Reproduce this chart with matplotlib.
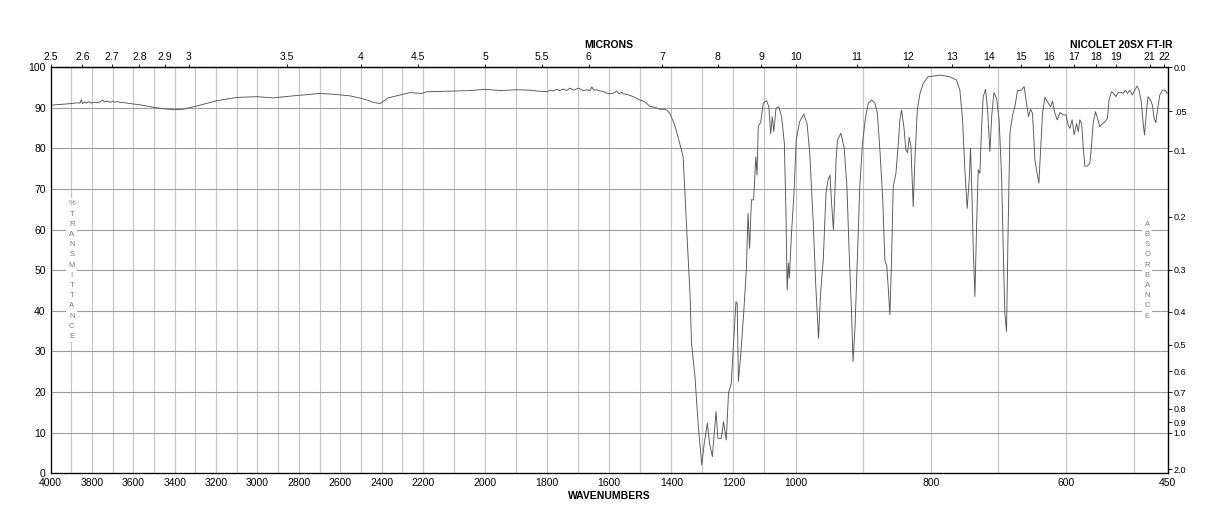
import matplotlib
import numpy as np

matplotlib.use("Agg")

from matplotlib import pyplot as plt  # noqa: E402

plt.rcParams["font.family"] = ["Liberation Sans", "DejaVu Sans"]

# spectrum (cm-1, %T)
wavenumbers = [
    4000, 3950, 3900, 3870, 3858, 3852, 3846, 3835, 3825, 3815, 3805, 3795,
    3780, 3760, 3748, 3740, 3725, 3712, 3700, 3690, 3680, 3665, 3640, 3616,
    3568, 3504, 3450, 3407, 3359, 3294, 3197, 3101, 3004, 2924, 2827, 2762,
    2698, 2634, 2553, 2500, 2472, 2440, 2408, 2390, 2368, 2311, 2263, 2206,
    2188, 2102, 2049, 2000, 1952, 1898, 1855, 1820, 1801, 1790, 1780, 1770,
    1760, 1748, 1738, 1726, 1715, 1699, 1690, 1683, 1670, 1662, 1656, 1650,
    1640, 1630, 1619, 1610, 1597, 1585, 1576, 1568, 1560, 1555, 1545, 1533,
    1520, 1512, 1500, 1490, 1479, 1469, 1460, 1447, 1437, 1421, 1415, 1405,
    1389, 1373, 1362, 1351, 1340, 1335, 1324, 1313, 1302, 1294, 1284, 1277,
    1268, 1256, 1250, 1239, 1232, 1223, 1216, 1207, 1192, 1188, 1184, 1177,
    1167, 1158, 1153, 1148, 1142, 1135, 1128, 1124, 1120, 1112, 1104, 1093,
    1086, 1080, 1075, 1070, 1063, 1054, 1045, 1036, 1031, 1027, 1023, 1020,
    1013, 1005, 999, 994, 988, 983, 979, 974, 970, 966, 963, 959,
    955, 952, 949, 947, 944, 943, 940, 938, 933, 928, 924, 921,
    917, 915, 912, 909, 905, 901, 897, 892.5, 887.5, 882.6, 879, 875,
    871, 868, 865, 863, 860.5, 858, 855.6, 851.6, 848, 845.7, 843.2, 839.8,
    836.8, 834.3, 831.9, 829.4, 826, 823.5, 820, 816, 811, 804, 786, 772,
    762, 757, 753, 749.6, 746.2, 743.2, 741.2, 739.2, 737.3, 734.8, 732.3, 729.9,
    727.4, 724.9, 722.5, 719, 716, 712.6, 710, 706.7, 702.7, 699, 695.3, 693,
    690.5, 688, 685.6, 683, 679, 675.7, 671.8, 665.8, 662, 658.5, 655.5, 652.5,
    649.6, 646, 642.8, 640.2, 637.3, 634.8, 631.3, 626.4, 622.9, 620, 616.5, 613,
    609, 604, 600, 597, 594.4, 591, 588, 584.5, 582, 579.6, 577, 574.7,
    572.2, 568.8, 564.8, 562.4, 560, 556.5, 553.5, 550, 546, 542.7, 538.8, 536.4,
    533, 529.5, 526.5, 523, 519.6, 515.7, 512.2, 509.2, 505.8, 502, 498.4, 495,
    492, 488.5, 486, 484, 481, 478.8, 475.2, 472.3, 469.8, 467.3, 464.8, 461.4,
    457.5, 454, 450,
]
transmittance = [
    90.6, 90.8, 91.0, 91.2, 91.1, 91.9, 91.0, 91.4, 91.1, 91.5, 91.1, 91.3,
    91.2, 91.4, 91.9, 91.4, 91.6, 91.3, 91.6, 91.3, 91.5, 91.3, 91.2, 91.0,
    90.7, 90.1, 89.7, 89.5, 89.6, 90.4, 91.7, 92.5, 92.7, 92.4, 92.9, 93.2,
    93.5, 93.3, 92.9, 92.3, 91.9, 91.3, 91.0, 91.6, 92.4, 93.1, 93.7, 93.5,
    93.9, 94.1, 94.2, 94.5, 94.2, 94.4, 94.3, 94.0, 93.9, 94.3, 94.1, 94.5,
    94.2, 94.6, 94.2, 94.8, 94.3, 94.8, 94.4, 94.2, 94.4, 94.2, 95.1, 94.3,
    94.4, 94.1, 94.0, 93.6, 93.4, 93.6, 94.1, 93.4, 93.8, 93.4, 93.3, 93.0,
    92.6, 92.3, 91.8, 91.6, 91.0, 90.3, 90.2, 89.9, 89.6, 89.6, 89.4, 88.6,
    85.7, 81.2, 77.9, 60.7, 44.3, 32.0, 23.8, 11.5, 2.1, 7.4, 12.3, 7.4,
    4.1, 15.2, 8.6, 8.6, 12.7, 8.2, 19.7, 22.1, 42.2, 41.8, 22.6, 28.7,
    39.4, 50.9, 64.0, 55.4, 67.3, 67.3, 77.9, 73.4, 85.3, 86.5, 91.1, 91.7,
    90.2, 83.5, 87.8, 84.1, 89.8, 90.2, 87.8, 81.2, 64.8, 45.1, 51.7, 48.0,
    59.1, 68.9, 82.0, 86.5, 88.4, 86.1, 78.8, 62.3, 45.9, 33.2, 44.3, 52.5,
    68.9, 72.2, 73.4, 67.3, 59.9, 64.0, 77.1, 82.0, 83.7, 80.0, 70.5, 55.8,
    38.6, 27.5, 36.1, 50.9, 70.5, 81.2, 87.0, 91.1, 91.9, 91.1, 88.6, 78.8,
    67.3, 52.5, 50.9, 45.9, 39.0, 52.5, 70.5, 73.8, 81.2, 87.0, 89.4, 85.3,
    79.6, 78.9, 82.7, 80.4, 65.6, 77.1, 89.4, 93.5, 96.0, 97.6, 98.0, 97.6,
    96.8, 94.3, 87.0, 74.7, 65.2, 72.2, 80.0, 68.9, 55.8, 43.5, 60.7, 74.7,
    73.8, 85.3, 92.7, 94.5, 89.4, 79.2, 87.8, 93.7, 92.3, 87.0, 73.0, 55.8,
    39.4, 34.9, 60.7, 83.7, 88.2, 90.2, 94.2, 94.3, 95.2, 91.1, 87.8, 89.6,
    88.6, 77.1, 73.8, 71.4, 80.4, 88.6, 92.5, 91.1, 90.2, 91.6, 88.6, 87.0,
    88.8, 88.2, 88.2, 85.7, 84.9, 87.0, 83.3, 86.1, 84.1, 87.0, 86.1, 80.4,
    75.6, 75.6, 76.3, 80.4, 86.1, 89.0, 87.4, 85.3, 86.1, 86.5, 87.4, 91.9,
    93.9, 93.5, 92.7, 93.7, 93.8, 93.5, 94.3, 93.5, 94.3, 93.1, 94.3, 95.3,
    94.3, 91.1, 86.1, 83.3, 89.4, 92.7, 91.9, 90.6, 87.4, 86.3, 89.4, 93.1,
    94.3, 94.3, 93.5,
]

wavenumber_ticks = [4000, 3800, 3600, 3400, 3200, 3000, 2800, 2600, 2400, 2200,
                    2000, 1800, 1600, 1400, 1200, 1000, 800, 600, 450]
grid_wavenumbers = list(range(3900, 499, -100))
micron_ticks = [2.5, 2.6, 2.7, 2.8, 2.9, 3, 3.5, 4, 4.5, 5, 5.5, 6, 7, 8, 9,
                10, 11, 12, 13, 14, 15, 16, 17, 18, 19, 21, 22]
percent_ticks = list(range(0, 101, 10))
absorbance_ticks = [0.0, 0.05, 0.1, 0.2, 0.3, 0.4, 0.5, 0.6, 0.7, 0.8, 0.9, 1.0, 2.0]
absorbance_labels = ["0.0", ".05", "0.1", "0.2", "0.3", "0.4", "0.5", "0.6",
                     "0.7", "0.8", "0.9", "1.0", "2.0"]

# the paper changes its cm-1 scale at 2200 and 1000
scale_wn = [450, 1000, 2200, 4000]
scale_pos = [0.0, 372.0, 744.6, 1117.0]


def forward(w):
    return np.interp(w, scale_wn, scale_pos)


def inverse(p):
    return np.interp(p, scale_pos, scale_wn)


fig = plt.figure(figsize=(12.18, 5.28), dpi=100)
ax = fig.add_axes([0.04154, 0.1036, 0.9170, 0.7695])
ax.set_xscale("function", functions=(forward, inverse))
ax.plot(wavenumbers, transmittance, color="#555555", linewidth=0.65)
ax.set_xlim(4000, 450)
ax.set_ylim(0, 100)

ax.set_xticks(wavenumber_ticks, [str(t) for t in wavenumber_ticks])
ax.set_xticks(grid_wavenumbers, minor=True)
ax.xaxis.remove_overlapping_locs = False
ax.set_yticks(percent_ticks)
ax.tick_params(axis="both", which="both", length=0, labelsize=7.5, pad=3.5)
ax.grid(which="minor", axis="x", color="#c4c4c4", linewidth=0.8)
ax.grid(which="major", axis="y", color="#9c9c9c", linewidth=0.8)
ax.set_axisbelow(True)
for spine in ax.spines.values():
    spine.set_linewidth(0.9)
    spine.set_color("#333333")

right = ax.secondary_yaxis("right")
right.set_yticks([100 * 10 ** (-a) for a in absorbance_ticks], absorbance_labels)
right.tick_params(length=3, width=0.6, labelsize=6.5, pad=1.5)

top = ax.twiny()
top.set_xscale("function", functions=(forward, inverse))
top.set_xlim(4000, 450)
top.set_xticks([10000 / m for m in micron_ticks], [f"{m:g}" for m in micron_ticks])
top.tick_params(length=2.5, width=0.6, labelsize=7.5, pad=1)
top.spines["top"].set_linewidth(0.9)

letter_style = dict(
    transform=ax.transAxes, ha="center", va="center", fontsize=5.5,
    color="#7a7a7a", linespacing=1.64, zorder=3,
    bbox={"facecolor": "white", "edgecolor": "none", "pad": 1.5},
)
ax.text(0.0189, 0.5, "\n".join("%TRANSMITTANCE"), **letter_style)
ax.text(0.9818, 0.5, "\n".join("ABSORBANCE"), **letter_style)

fig.text(0.5, 0.9148, "MICRONS", ha="center", va="center", fontsize=7.5, fontweight="bold")
fig.text(0.9628, 0.9148, "NICOLET 20SX FT-IR", ha="right", va="center",
         fontsize=7.5, fontweight="bold")
fig.text(0.5, 0.0606, "WAVENUMBERS", ha="center", va="center", fontsize=7.5,
         fontweight="bold")

fig.savefig("out.png", dpi=100)
plt.close(fig)
